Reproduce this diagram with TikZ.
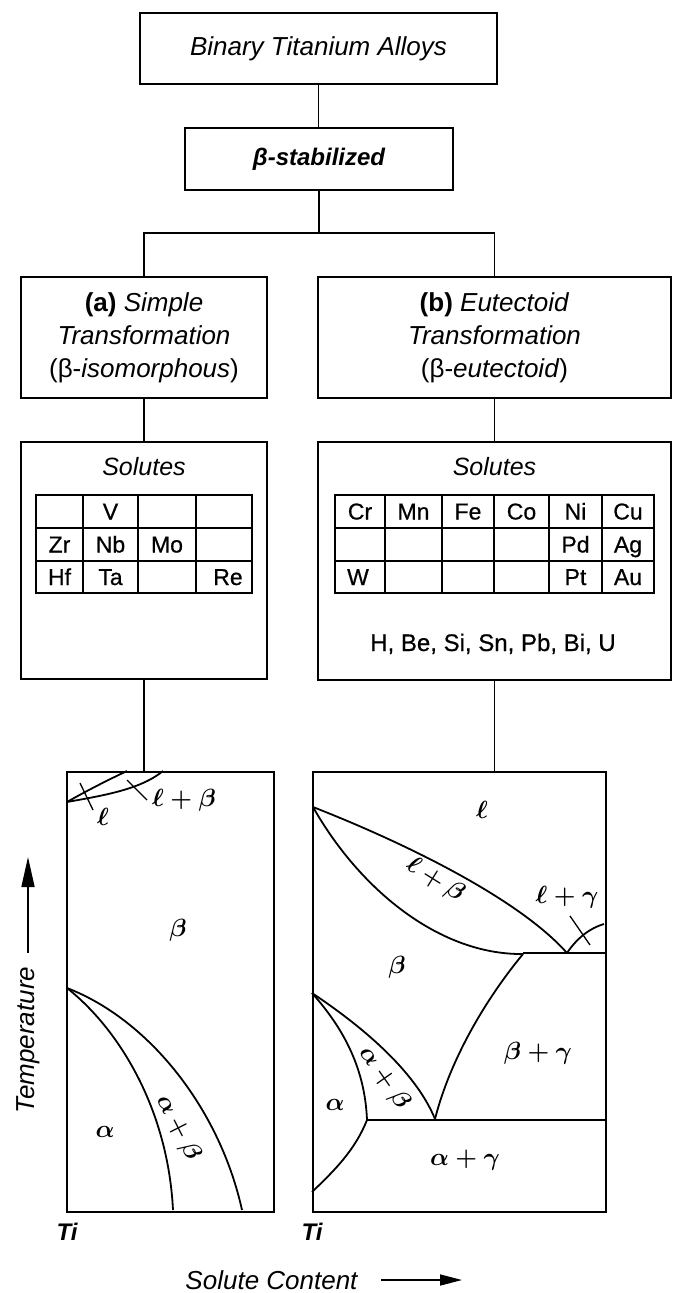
\documentclass[tikz,border=0pt]{standalone}
\usepackage{fontspec}
\setmainfont{Liberation Sans}
\newfontfamily\cellfont{Liberation Sans}[FakeBold=0.6]
\usetikzlibrary{arrows.meta}
\tikzset{
  hbox/.style={draw, line width=2.1pt, inner sep=0pt, align=center, font=\fontsize{26}{33}\selectfont},
  conn/.style={line width=1.9pt},
  curve/.style={line width=1.8pt},
  grid/.style={line width=1.8pt},
  frame/.style={draw, line width=2pt, inner sep=0pt, anchor=north west},
  lbl/.style={inner sep=0pt, font=\fontsize{26}{30}\selectfont},
  cell/.style={inner sep=0pt, font=\fontsize{23}{27}\selectfont\cellfont, text height=16pt, text depth=0pt},
  ph/.style={inner sep=0pt, font=\fontsize{24}{28}\selectfont\boldmath},
}
\begin{document}
\begin{tikzpicture}[x=1pt,y=-1pt]
\fill[white] (0,0) rectangle (672,1293);
\useasboundingbox (0,0) rectangle (672,1293);

% ---- hierarchy boxes
\node[hbox, minimum width=357pt, minimum height=71pt] (top) at (318.5,48.5) {\itshape Binary Titanium Alloys};
\node[hbox, minimum width=268pt, minimum height=62pt, font=\fontsize{24}{28}\selectfont] (stab) at (319,159) {\bfseries\itshape β-stabilized};
\node[hbox, minimum width=246pt, minimum height=121pt] (ta) at (144,337.5) {\textbf{(a)} \textit{Simple}\\ \textit{Transformation}\\ (β-\textit{isomorphous})};
\node[hbox, minimum width=353pt, minimum height=121pt] (tb) at (494.5,337.5) {\textbf{(b)} \textit{Eutectoid}\\ \textit{Transformation}\\ (β-\textit{eutectoid})};
\node[hbox, minimum width=246pt, minimum height=237pt] (sa) at (144,560.5) {};
\node[hbox, minimum width=353pt, minimum height=238pt] (sb) at (494.5,561) {};

\coordinate (bj) at (319,233);
\draw[conn] (top.south) -- (top.south |- stab.north);
\draw[conn] (stab.south) -- (bj);
\draw[conn] (ta.north) |- (bj) -| (tb.north);
\draw[conn] (ta.south) -- (sa.north);
\draw[conn] (tb.south) -- (sb.north);

% ---- solutes (a)
\node[lbl, font=\fontsize{25}{30}\selectfont] (sola) at (144,467) {\itshape Solutes};
\draw[grid] (36,495) rectangle (252,593);
\draw[grid] (36,528) -- (252,528) (36,561) -- (252,561);
\draw[grid] (83,495) -- (83,593) (138,495) -- (138,593) (196,495) -- (196,593);
\node[cell] (cV)  at (110.5,511.5) {V};
\node[cell] (cZr) at (59.5,544.5) {Zr};
\node[cell] (cNb) at (110.5,544.5) {Nb};
\node[cell] (cMo) at (167,544.5) {Mo};
\node[cell] (cHf) at (59.5,577) {Hf};
\node[cell] (cTa) at (110.5,577) {Ta};
\node[cell] (cRe) at (228,577) {Re};

% ---- solutes (b)
\node[lbl, font=\fontsize{25}{30}\selectfont] (solb) at (494.5,467) {\itshape Solutes};
\draw[grid] (335,495) rectangle (654,593);
\draw[grid] (335,528) -- (654,528) (335,561) -- (654,561);
\draw[grid] (385,495) -- (385,593) (442,495) -- (442,593) (494,495) -- (494,593)
            (549,495) -- (549,593) (602,495) -- (602,593);
\node[cell] (cCr) at (360,511.5) {Cr};
\node[cell] (cMn) at (413.5,511.5) {Mn};
\node[cell] (cFe) at (468,511.5) {Fe};
\node[cell] (cCo) at (521.5,511.5) {Co};
\node[cell] (cNi) at (575.5,511.5) {Ni};
\node[cell] (cCu) at (628,511.5) {Cu};
\node[cell] (cPd) at (575.5,544.5) {Pd};
\node[cell] (cAg) at (628,544.5) {Ag};
\node[cell] (cW)  at (358,577) {W};
\node[cell] (cPt) at (575.5,577) {Pt};
\node[cell] (cAu) at (628,577) {Au};
\node[cell, font=\fontsize{24}{28}\selectfont\cellfont] (hbe) at (493,643) {H, Be, Si, Sn, Pb, Bi, U};

% ---- phase diagram frames
\node[frame, minimum width=207pt, minimum height=440pt] (pa) at (66,770.5) {};
\node[frame, minimum width=293pt, minimum height=440pt] (pb) at (312,771) {};
\draw[conn] (sa.south) -- (sa.south |- pa.north);
\draw[conn] (sb.south) -- (sb.south |- pb.north);

% ---- left diagram (isomorphous)
\draw[curve] (67,802) .. controls (88,790) and (110,779) .. (127,771);
\draw[curve] (67,802) .. controls (100,796) and (140,790) .. (163,771);
\draw[line width=1.3pt] (80,783) -- (93,810);
\draw[line width=1.3pt] (127,780) -- (147,800);
\node[ph] (la1) at (103,817) {$\ell$};
\node[ph] (la2) at (184,800) {$\ell+\beta$};
\node[ph] (la3) at (178,930) {$\beta$};
\draw[curve] (67,988) .. controls (120,1030) and (168,1110) .. (173,1210);
\draw[curve] (67,988) .. controls (150,1020) and (220,1110) .. (242,1210);
\node[ph] (la4) at (105,1132) {$\alpha$};
\node[ph, rotate=-63] (la5) at (178,1128) {$\alpha+\beta$};

% ---- right diagram (eutectoid)
\draw[curve] (313,807) .. controls (410,845) and (520,900) .. (567,953);
\draw[curve] (313,807) .. controls (360,890) and (440,955) .. (523,954);
\draw[curve] (523,953) -- (605,953);
\draw[curve] (567,953) .. controls (577,938) and (590,928) .. (604,924);
\draw[line width=1.3pt] (570,916) -- (590,945);
\draw[curve] (523,954) .. controls (485,1000) and (450,1060) .. (435,1119);
\draw[curve] (312,993) .. controls (360,1025) and (415,1070) .. (435,1119);
\draw[curve] (312,993) .. controls (345,1030) and (365,1070) .. (367,1120);
\draw[curve] (367,1120) -- (605,1120);
\draw[curve] (367,1120) .. controls (355,1150) and (335,1170) .. (312,1192);
\node[ph] (lb1) at (482,810) {$\ell$};
\node[ph, rotate=-32] (lb2) at (435,880) {$\ell+\beta$};
\node[ph] (lb3) at (567,897) {$\ell+\gamma$};
\node[ph] (lb4) at (397,967) {$\beta$};
\node[ph] (lb5) at (335,1105) {$\alpha$};
\node[ph, rotate=-55] (lb6) at (384,1078) {$\alpha+\beta$};
\node[ph] (lb7) at (538,1053) {$\beta+\gamma$};
\node[ph] (lb8) at (465,1160) {$\alpha+\gamma$};

% ---- axis labels
\node[lbl, rotate=90] (temp) at (28,1040) {\itshape Temperature};
\coordinate (ta0) at (28,953);
\coordinate (ta1) at (28,857);
\draw[line width=1.6pt, -{Triangle[length=30pt,width=13pt]}] (ta0) -- (ta1);
\node[lbl, font=\fontsize{24}{28}\selectfont] (ti1) at (67,1232) {\bfseries\itshape Ti};
\node[lbl, font=\fontsize{24}{28}\selectfont] (ti2) at (312,1232) {\bfseries\itshape Ti};
\node[lbl] (sc) at (271.5,1280) {\itshape Solute Content};
\coordinate (sa0) at (381,1280);
\coordinate (sa1) at (462,1280);
\draw[line width=1.6pt, -{Triangle[length=22pt,width=11pt]}] (sa0) -- (sa1);
\end{tikzpicture}
\end{document}
